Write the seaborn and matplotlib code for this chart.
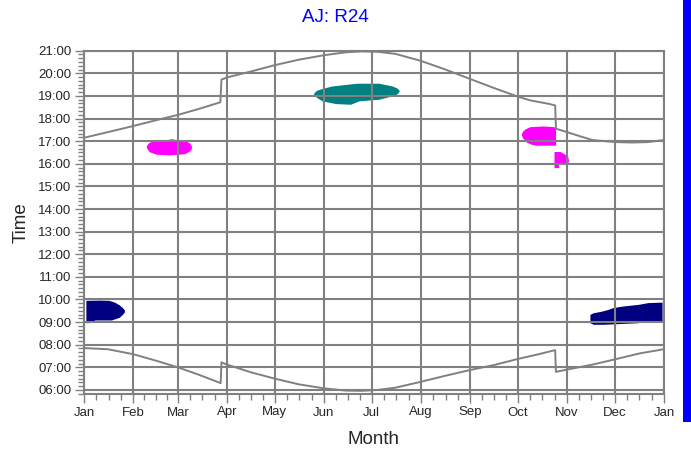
import numpy as np
import matplotlib
matplotlib.use("Agg")
import matplotlib.pyplot as plt
import seaborn as sns
from matplotlib.ticker import MultipleLocator, FixedLocator
from matplotlib.patches import Rectangle

# Month axis (day of year)
month_labels = ["Jan", "Feb", "Mar", "Apr", "May", "Jun", "Jul",
                "Aug", "Sep", "Oct", "Nov", "Dec", "Jan"]
month_days = [0, 31, 59, 90, 120, 151, 181, 212, 243, 273, 304, 334, 365]

hour_ticks = list(range(6, 22))
hour_labels = ["%02d:00" % h for h in hour_ticks]

# sunset curve (day, decimal hour)
sunset_day = [0, 15, 31, 45, 59, 72, 85.8, 86.5, 90, 105, 120, 135, 151, 165,
              175, 185, 196, 212, 227, 243, 258, 273, 281, 292.5, 296.5,
              297, 304, 312, 320, 334, 345, 355, 365]
sunset_hour = [17.15, 17.40, 17.67, 17.92, 18.16, 18.42, 18.72, 19.72, 19.82,
               20.08, 20.36, 20.60, 20.80, 20.93, 20.97, 20.95, 20.86, 20.55,
               20.18, 19.75, 19.35, 18.97, 18.80, 18.65, 18.58,
               17.55, 17.40, 17.22, 17.05, 16.96, 16.94, 16.96, 17.05]

# sunrise curve
sunrise_day = [0, 15, 31, 45, 59, 72, 86, 86.5, 90, 105, 120, 135, 151, 165,
               175, 185, 196, 212, 227, 243, 258, 273, 285, 296.5,
               297, 304, 320, 334, 350, 365]
sunrise_hour = [7.85, 7.80, 7.58, 7.30, 7.00, 6.68, 6.30, 7.22, 7.12, 6.78,
                6.50, 6.25, 6.07, 5.97, 5.96, 6.00, 6.10, 6.36, 6.62, 6.88,
                7.10, 7.37, 7.56, 7.76,
                6.80, 6.90, 7.12, 7.35, 7.62, 7.80]

# activity blobs: outline (day, hour)
jan_days = [1.5, 10, 16, 19.5, 22.5, 24.5, 25.7, 25.7, 24.5, 22.5, 17.5, 7,
            5, 1.5]
jan_hours = [9.94, 9.95, 9.94, 9.86, 9.74, 9.62, 9.52, 9.42, 9.32, 9.19,
             9.07, 9.07, 8.96, 8.95]

feb_days = [39.4, 40.2, 41.4, 44.6, 54.0, 55.2, 57.1, 63.4, 66.5, 67.6, 68.0,
            67.6, 66.5, 63.4, 54.0, 45.8, 41.4, 40.2]
feb_hours = [16.74, 16.85, 16.93, 17.02, 17.06, 17.09, 17.06, 17.02, 16.91,
             16.82, 16.70, 16.60, 16.53, 16.42, 16.37, 16.40, 16.51, 16.62]

jun_days = [144.6, 146.5, 150.2, 156.5, 172.0, 185.8, 194.2, 197.5, 198.8,
            197.5, 194.2, 185.8, 173.3, 168.0, 158.6, 150.2, 146.5]
jun_hours = [19.08, 19.22, 19.31, 19.42, 19.54, 19.54, 19.42, 19.32, 19.20,
             19.08, 18.98, 18.83, 18.76, 18.61, 18.64, 18.76, 18.92]

oct_days = [275.4, 276.3, 277.9, 281.0, 289.4, 295.7, 297.1, 297.1, 284.4,
            281.9, 278.9, 276.3]
oct_hours = [17.28, 17.42, 17.52, 17.62, 17.65, 17.62, 17.58, 16.80, 16.80,
             16.84, 16.93, 17.12]

nov_days = [296.1, 300.0, 302.5, 304.8, 305.2, 304.8, 302.5, 299.0, 299.0,
            296.1]
nov_hours = [16.52, 16.52, 16.42, 16.28, 16.12, 16.00, 15.95, 15.95, 15.81,
             15.81]

dec_days = [318.7, 320.8, 326.0, 330.2, 333.3, 339.6, 349.0, 355.3, 364.1,
            364.1, 351.9, 349.0, 339.6, 327.1, 320.8, 318.7]
dec_hours = [9.32, 9.39, 9.46, 9.54, 9.62, 9.69, 9.76, 9.84, 9.86,
             9.02, 9.02, 8.95, 8.92, 8.88, 8.88, 8.95]

blobs = [(jan_days, jan_hours, "#000080"),
         (feb_days, feb_hours, "#ff00ff"),
         (jun_days, jun_hours, "#008080"),
         (oct_days, oct_hours, "#ff00ff"),
         (nov_days, nov_hours, "#ff00ff"),
         (dec_days, dec_hours, "#000080")]

sns.set_style("white")
plt.rcParams["font.family"] = ["Liberation Sans", "DejaVu Sans"]

grey = "#808080"
fig = plt.figure(figsize=(6.91, 4.51), dpi=100)
ax = fig.add_axes([84 / 691, 1 - 394 / 451, 580 / 691, 343.3 / 451])

for d, h, c in blobs:
    ax.fill(d, h, color=c, lw=0, zorder=0.2)

sns.lineplot(x=sunset_day, y=sunset_hour, ax=ax, color=grey, lw=1.4,
             estimator=None, sort=False, zorder=2)
sns.lineplot(x=sunrise_day, y=sunrise_hour, ax=ax, color=grey, lw=1.4,
             estimator=None, sort=False, zorder=2)

ax.set_xlim(0, 365)
ax.set_ylim(5.82, 21)

ax.set_xticks(month_days)
ax.set_xticklabels(month_labels, fontsize=9.5)
minor_x = []
for i in range(len(month_days) - 1):
    step = (month_days[i + 1] - month_days[i]) / 4
    minor_x += [month_days[i] + k * step for k in (1, 2, 3)]
ax.xaxis.set_minor_locator(FixedLocator(minor_x))

ax.set_yticks(hour_ticks)
ax.set_yticklabels(hour_labels, fontsize=9.5)
ax.yaxis.set_minor_locator(MultipleLocator(1 / 6))

ax.tick_params(which="major", direction="out", length=6.5, width=1,
               color=grey, pad=2.5, left=True, bottom=True)
ax.tick_params(which="minor", direction="out", length=4, width=1,
               color=grey, left=True, bottom=True)

ax.set_axisbelow(True)
ax.grid(True, which="major", color=grey, lw=1.5)
for s in ax.spines.values():
    s.set_color(grey)
    s.set_linewidth(1.5)

ax.set_xlabel("Month", fontsize=13.5, labelpad=9)
ax.set_ylabel("Time", fontsize=13.5, labelpad=6)

fig.text(335 / 691, 1 - 18 / 451, "AJ: R24", color="#0000ff",
         fontsize=13.5, ha="center", va="center")

# blue bar at the right edge
fig.add_artist(Rectangle((683 / 691, 1 - 422 / 451), 8 / 691, 422 / 451,
                         transform=fig.transFigure, color="#0000ff", lw=0))

fig.savefig("out.png", dpi=100)
